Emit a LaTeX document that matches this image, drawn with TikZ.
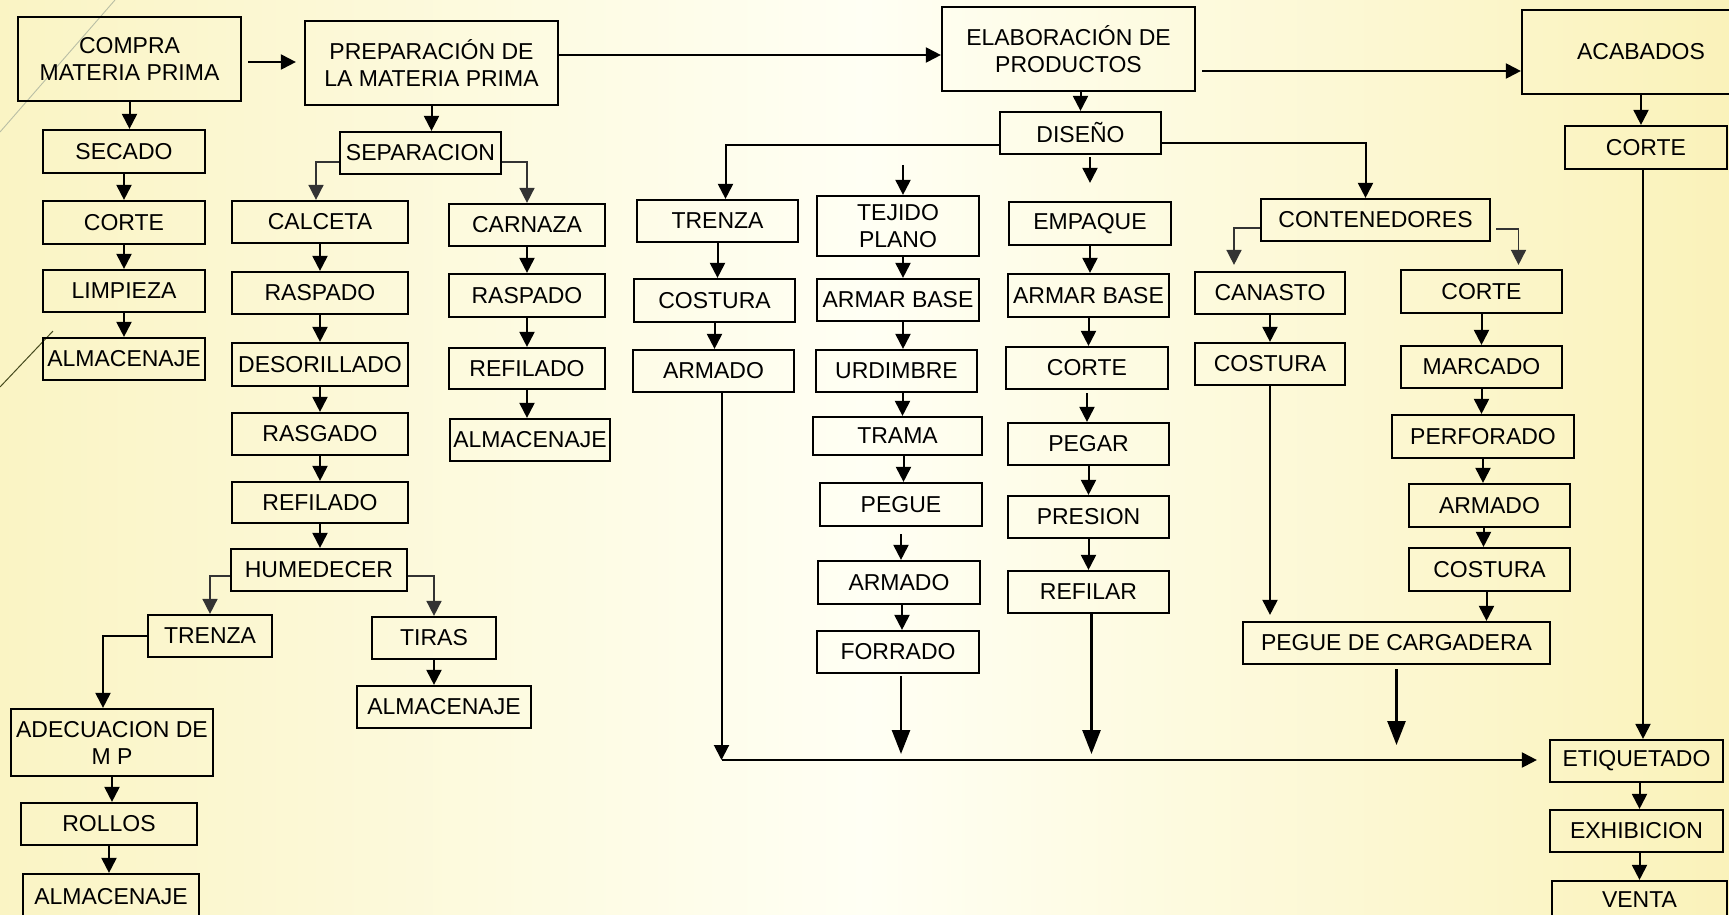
\documentclass[tikz,border=0pt]{standalone}
\usepackage{fontspec}
\setmainfont{Liberation Sans}
\usetikzlibrary{arrows.meta,calc}
\definecolor{bgY}{RGB}{250,244,196}
\definecolor{bgW}{RGB}{255,255,244}
\definecolor{bgR}{RGB}{250,242,186}
\definecolor{decoA}{RGB}{185,190,165}
\definecolor{decoB}{RGB}{70,75,30}
\tikzset{
  box/.style={draw=black, line width=2.2pt, inner sep=0pt, align=center, font=\fontsize{23}{27}\selectfont},
  arr/.style={line width=2pt, -{Triangle[width=15pt,length=15pt]}},
  thinarr/.style={line width=1.6pt, draw=black!80, -{Triangle[width=15pt,length=15pt]}},
  bigarr/.style={line width=2.6pt, -{Triangle[width=18pt,length=24pt]}},
}
\newcommand\bx[6]{\node[box, minimum width={(#4-#2)*1pt}, minimum height={(#5-#3)*1pt}] (#1) at ({(#2+#4)/2},{(#3+#5)/2}) {#6};}
\newcommand\dn[2]{\draw[arr] (#1.south) -- (#1.south |- #2.north);}
\begin{document}
\begin{tikzpicture}[x=1pt,y=-1pt]
\useasboundingbox (0,0) rectangle (1729,914);
\clip (0,0) rectangle (1729,914);
\shade[left color=bgY, right color=bgR, middle color=bgW] (0,0) rectangle (1729,914);
\draw[decoA, line width=0.9pt] (115,0) -- (0,132);
\draw[decoB, line width=1pt] (53,331) -- (0,387);

% column 1
\bx{compra}{18}{17}{241}{101}{COMPRA\\MATERIA PRIMA}
\bx{secado}{43}{130}{205}{173}{SECADO}
\bx{corteA}{43}{201}{205}{244}{CORTE}
\bx{limpieza}{43}{270}{205}{312}{LIMPIEZA}
\bx{almA}{43}{338}{205}{380}{ALMACENAJE}
% preparacion
\bx{prep}{305}{21}{558}{105}{PREPARACIÓN DE\\LA MATERIA PRIMA}
\bx{sep}{340}{132}{501}{174}{SEPARACION}
\bx{calceta}{232}{201}{408}{243}{CALCETA}
\bx{raspA}{232}{272}{408}{314}{RASPADO}
\bx{desor}{232}{343}{408}{386}{DESORILLADO}
\bx{rasgado}{232}{413}{408}{455}{RASGADO}
\bx{refilA}{232}{482}{408}{523}{REFILADO}
\bx{humed}{231}{549}{407}{591}{HUMEDECER}
\bx{trenzaA}{148}{615}{272}{657}{TRENZA}
\bx{tiras}{372}{617}{496}{659}{TIRAS}
\bx{almC}{357}{686}{531}{728}{ALMACENAJE}
\bx{adec}{11}{709}{213}{776}{ADECUACION DE\\M P}
\bx{rollos}{21}{803}{197}{845}{ROLLOS}
\bx{almD}{23}{874}{199}{922}{\raisebox{3pt}{ALMACENAJE}}
\bx{carnaza}{449}{204}{605}{246}{CARNAZA}
\bx{raspB}{449}{274}{605}{317}{RASPADO}
\bx{refilB}{449}{348}{605}{389}{REFILADO}
\bx{almB}{450}{419}{610}{461}{ALMACENAJE}
% elaboracion
\bx{elab}{942}{7}{1195}{91}{ELABORACIÓN DE\\PRODUCTOS}
\bx{diseno}{1000}{112}{1161}{154}{DISEÑO}
\bx{trenzaB}{637}{200}{798}{242}{TRENZA}
\bx{costuraA}{634}{279}{795}{322}{COSTURA}
\bx{armadoA}{633}{350}{794}{392}{ARMADO}
\bx{tejido}{817}{196}{979}{256}{TEJIDO\\PLANO}
\bx{armarA}{817}{279}{979}{321}{ARMAR BASE}
\bx{urdimbre}{816}{350}{977}{392}{URDIMBRE}
\bx{trama}{813}{417}{982}{455}{TRAMA}
\bx{pegue}{820}{483}{982}{526}{PEGUE}
\bx{armadoB}{818}{561}{980}{604}{ARMADO}
\bx{forrado}{817}{631}{979}{673}{FORRADO}
\bx{empaque}{1009}{202}{1171}{245}{EMPAQUE}
\bx{armarB}{1008}{274}{1169}{317}{ARMAR BASE}
\bx{corteB}{1006}{347}{1168}{389}{CORTE}
\bx{pegar}{1008}{423}{1169}{465}{PEGAR}
\bx{presion}{1008}{496}{1169}{538}{PRESION}
\bx{refilar}{1008}{571}{1169}{613}{REFILAR}
\bx{cont}{1261}{199}{1490}{241}{CONTENEDORES}
\bx{canasto}{1195}{272}{1345}{314}{CANASTO}
\bx{costuraB}{1195}{343}{1345}{385}{COSTURA}
\bx{corteC}{1401}{270}{1562}{313}{CORTE}
\bx{marcado}{1401}{346}{1562}{388}{MARCADO}
\bx{perforado}{1392}{415}{1574}{458}{PERFORADO}
\bx{armadoC}{1409}{484}{1570}{527}{ARMADO}
\bx{costuraC}{1409}{548}{1570}{591}{COSTURA}
\bx{pegcarg}{1243}{622}{1550}{664}{PEGUE DE CARGADERA}
% acabados
\bx{acab}{1522}{10}{1760}{94}{ACABADOS}
\bx{corteD}{1565}{126}{1727}{169}{CORTE}
\bx{etiq}{1550}{740}{1723}{782}{ETIQUETADO}
\bx{exhib}{1550}{810}{1723}{852}{EXHIBICION}
\bx{venta}{1552}{881}{1727}{921}{\raisebox{3pt}{VENTA}}

% top row
\draw[arr] ([xshift=6pt,yshift=-3pt]compra.east) -- ([xshift=-8pt,yshift=-3pt]compra.east -| prep.west);
\draw[arr] ([yshift=8pt]prep.east) -- ([yshift=8pt]prep.east -| elab.west);
\draw[arr] ([xshift=6pt,yshift=-22pt]elab.east) -- ([yshift=-22pt]elab.east -| acab.west);

% column 1
\dn{compra}{secado}
\dn{secado}{corteA}
\dn{corteA}{limpieza}
\dn{limpieza}{almA}

% preparacion
\dn{prep}{sep}
\draw[thinarr] ([yshift=-9pt]sep.west) -| ([xshift=-4pt]calceta.north);
\draw[thinarr] ([yshift=-9pt]sep.east) -| (carnaza.north);
\dn{calceta}{raspA}
\dn{raspA}{desor}
\dn{desor}{rasgado}
\dn{rasgado}{refilA}
\dn{refilA}{humed}
\draw[thinarr] ([yshift=-6pt]humed.west) -| (trenzaA.north);
\draw[thinarr] ([yshift=-6pt]humed.east) -| (tiras.north);
\draw[arr] (trenzaA.west) -| ([xshift=-9pt]adec.north);
\dn{adec}{rollos}
\dn{rollos}{almD}
\dn{tiras}{almC}
\dn{carnaza}{raspB}
\dn{raspB}{refilB}
\dn{refilB}{almB}

% elaboracion
\draw[arr] (diseno.north |- elab.south) -- (diseno.north);
\draw[arr] ([yshift=-12pt]diseno.west) -| ([xshift=8pt]trenzaB.north);
\draw[arr] ([xshift=5pt,yshift=30pt]tejido.north) -- ([xshift=5pt]tejido.north);
\draw[arr] ([yshift=-2pt]empaque.north |- diseno.south) -- ([yshift=18pt]empaque.north);
\draw[arr] ([yshift=-10pt]diseno.east) -| ([xshift=-10pt]cont.north);
\dn{trenzaB}{costuraA}
\dn{costuraA}{armadoA}
\draw[arr] ([xshift=5pt]tejido.south) -- ([xshift=5pt]tejido.south |- armarA.north);
\draw[arr] ([xshift=5pt]armarA.south) -- ([xshift=5pt]armarA.south |- urdimbre.north);
\draw[arr] ([xshift=6pt]urdimbre.south) -- ([xshift=6pt]urdimbre.south |- trama.north);
\draw[arr] ([xshift=6pt]trama.south) -- ([xshift=6pt]trama.south |- pegue.north);
\draw[arr] ([yshift=-7pt]pegue.south) -- (pegue.south |- armadoB.north);
\draw[arr] ([xshift=3pt]armadoB.south) -- ([xshift=3pt]armadoB.south |- forrado.north);
\dn{empaque}{armarB}
\dn{armarB}{corteB}
\draw[arr] ([yshift=-3pt]corteB.south) -- (corteB.south |- pegar.north);
\dn{pegar}{presion}
\dn{presion}{refilar}
\draw[thinarr] ([yshift=-8pt]cont.west) -| ([xshift=-36pt,yshift=6pt]canasto.north);
\draw[thinarr] ([xshift=5pt,yshift=-9pt]cont.east) -| ([xshift=37pt,yshift=4pt]corteC.north);
\dn{canasto}{costuraB}
\draw[arr] (costuraB.south) -- ([yshift=6pt]costuraB.south |- pegcarg.north);
\dn{corteC}{marcado}
\dn{marcado}{perforado}
\draw[arr] (perforado.south) -- (perforado.south |- armadoC.north);
\draw[arr] ([xshift=-6pt]armadoC.south) -- ([xshift=-6pt]armadoC.south |- costuraC.north);
\draw[arr] ([xshift=-3pt]costuraC.south) -- ([xshift=-3pt]costuraC.south |- pegcarg.north);

% bus to etiquetado
\draw[arr] ([xshift=8pt]armadoA.south) -- ([xshift=8pt,yshift=1pt]armadoA.south |- etiq.west);
\draw[arr] ([xshift=8pt,yshift=1pt]armadoA.south |- etiq.west) -- ([xshift=-12pt,yshift=1pt]etiq.west);
\draw[bigarr] ([xshift=3pt,yshift=-2pt]forrado.south) -- ([xshift=3pt,yshift=7pt]forrado.south |- etiq.west);
\draw[bigarr] ([xshift=3pt]refilar.south) -- ([xshift=3pt,yshift=7pt]refilar.south |- etiq.west);
\draw[bigarr] ([yshift=-4pt]pegcarg.south) -- ([yshift=16pt]pegcarg.south |- etiq.west);

% acabados
\draw[arr] ([xshift=-5pt]corteD.north |- acab.south) -- ([xshift=-5pt]corteD.north);
\draw[arr] ([xshift=-3pt]corteD.south) -- ([xshift=-3pt]corteD.south |- etiq.north);
\draw[arr] ([xshift=3pt]etiq.south) -- ([xshift=3pt]etiq.south |- exhib.north);
\draw[arr] ([xshift=3pt]exhib.south) -- ([xshift=3pt]exhib.south |- venta.north);
\end{tikzpicture}
\end{document}
